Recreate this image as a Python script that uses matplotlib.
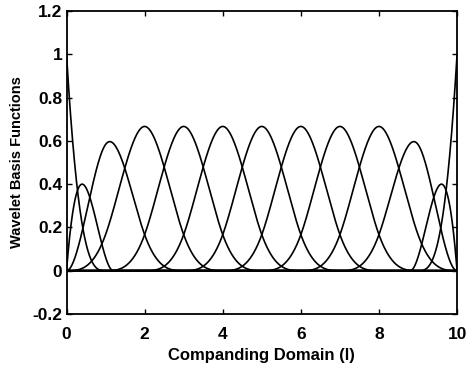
import matplotlib
matplotlib.use("Agg")
import matplotlib.pyplot as plt
import numpy as np

# each basis function: its 5 local knots and a height scale
curve_knots = [
    [0, 0, 0, 0, 1],
    [0, 0, 0, 1.2, 1.2],
    [0, 0, 1, 2, 3],
    [0, 1, 2, 3, 4],
    [1, 2, 3, 4, 5],
    [2, 3, 4, 5, 6],
    [3, 4, 5, 6, 7],
    [4, 5, 6, 7, 8],
    [5, 6, 7, 8, 9],
    [6, 7, 8, 9, 10],
    [7, 8, 9, 10, 10],
    [8.8, 8.8, 10, 10, 10],
    [9, 10, 10, 10, 10],
]
curve_scale = [1, 0.9, 1, 1, 1, 1, 1, 1, 1, 1, 1, 0.9, 1]
x_range = [0, 10]
x_ticks = [0, 2, 4, 6, 8, 10]
y_ticks = [-0.2, 0, 0.2, 0.4, 0.6, 0.8, 1, 1.2]
y_tick_labels = ["-0.2", "0", "0.2", "0.4", "0.6", "0.8", "1", "1.2"]


def cubic_basis(u, x):
    # single cubic B-spline on local knots u[0..4] (Cox-de Boor)
    n = [np.zeros_like(x) for _ in range(4)]
    for i in range(4):
        if u[i] < u[i + 1]:
            if u[i + 1] == x_range[1]:
                n[i] = ((x >= u[i]) & (x <= u[i + 1])).astype(float)
            else:
                n[i] = ((x >= u[i]) & (x < u[i + 1])).astype(float)
    for k in range(1, 4):
        nxt = []
        for i in range(4 - k):
            val = np.zeros_like(x)
            d1 = u[i + k] - u[i]
            if d1 > 0:
                val += (x - u[i]) / d1 * n[i]
            d2 = u[i + k + 1] - u[i + 1]
            if d2 > 0:
                val += (u[i + k + 1] - x) / d2 * n[i + 1]
            nxt.append(val)
        n = nxt
    return n[0]


plt.rcParams["font.family"] = ["Liberation Sans", "DejaVu Sans"]
fig = plt.figure(figsize=(4.7, 3.68), dpi=100)
ax = fig.add_axes([0.1415, 0.1467, 0.831, 0.8234])

xs = np.linspace(x_range[0], x_range[1], 2001)
for knots, scale in zip(curve_knots, curve_scale):
    ax.plot(xs, scale * cubic_basis(knots, xs), color="black", linewidth=1.2)

ax.set_xlim(*x_range)
ax.set_ylim(-0.2, 1.2)
ax.set_xticks(x_ticks)
ax.set_yticks(y_ticks)
ax.set_yticklabels(y_tick_labels)
ax.tick_params(direction="in", length=3.5, width=1, labelsize=12.5, top=True, right=True)
ax.tick_params(axis="x", pad=9)
ax.tick_params(axis="y", pad=3)
for lab in ax.get_xticklabels() + ax.get_yticklabels():
    lab.set_fontweight("bold")
for spine in ax.spines.values():
    spine.set_linewidth(1.3)

ax.set_xlabel("Companding Domain (l)", fontsize=12, fontweight="bold", labelpad=5)
ax.set_ylabel("Wavelet Basis Functions", fontsize=10.5, fontweight="bold", labelpad=6)

fig.savefig("out.png", dpi=100)
